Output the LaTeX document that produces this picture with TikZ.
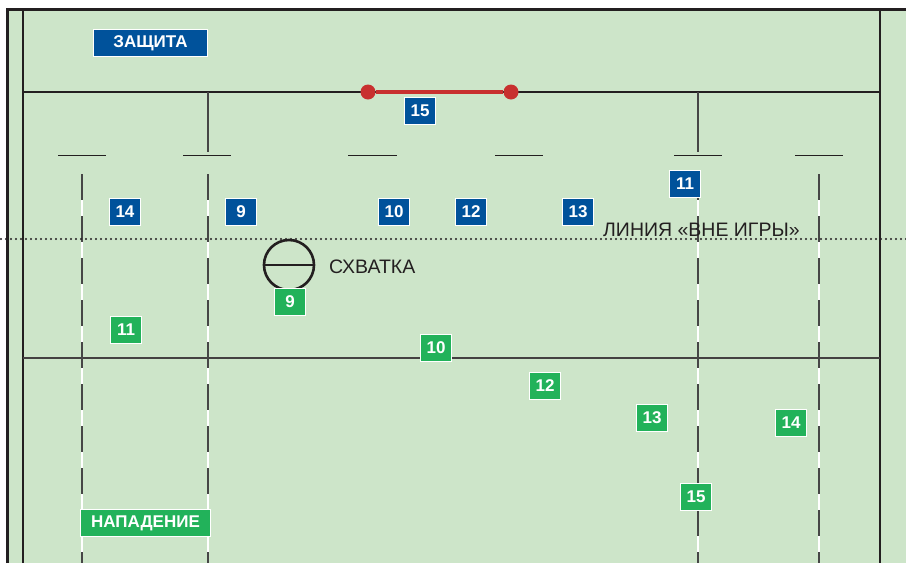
\documentclass[tikz,border=0pt]{standalone}
\usepackage{fontspec}
\setmainfont{Liberation Sans}
\definecolor{field}{RGB}{205,229,201}
\definecolor{defblue}{RGB}{0,82,155}
\definecolor{attgreen}{RGB}{34,178,90}
\definecolor{postred}{RGB}{200,48,47}
\definecolor{ink}{RGB}{35,31,32}
\definecolor{dashgray}{RGB}{70,70,70}
\tikzset{
  numbox/.style={draw=white, line width=1.2pt, text=white, font=\bfseries\fontsize{17}{17}\selectfont,
    minimum width=31pt, minimum height=27pt, inner sep=0pt},
  defbox/.style={numbox, fill=defblue},
  attbox/.style={numbox, fill=attgreen},
  teambox/.style={draw=white, line width=1.2pt, text=white, font=\bfseries\fontsize{17}{17}\selectfont,
    minimum height=27pt, inner sep=0pt},
  post/.style={circle, fill=postred, minimum size=15pt, inner sep=0pt},
  fieldline/.style={draw=ink, line width=2.4pt},
  thinline/.style={draw=ink, line width=1pt},
  tickline/.style={draw=dashgray, line width=1.3pt},
  lbl/.style={text=ink, font=\fontsize{19.5}{19.5}\selectfont, inner sep=0pt},
}
\begin{document}
\begin{tikzpicture}[x=1pt,y=-1pt]
\useasboundingbox (0,0) rectangle (906,563);
\fill[white] (0,0) rectangle (906,563);
\fill[field] (7,9) rectangle (906,563);
% outer border
\draw[fieldline, line width=3pt] (7,563) -- (7,9) -- (906,9);
\draw[fieldline] (23,9) -- (23,563);
\draw[fieldline, line width=2.6pt] (880,9) -- (880,563);
% goal line and 22 line
\draw[fieldline] (23,92) -- (880,92);
\draw[fieldline, line width=2pt, draw=ink!85] (23,358) -- (880,358);
% ticks from goal line
\draw[tickline] (208,92) -- (208,152);
\draw[tickline] (698,92) -- (698,152);
% 5m marks
\foreach \a/\b in {58/106,183/231,348/397,495/543,674/722,795/843}
  \draw[thinline] (\a,155) -- (\b,155);
% dashed long lines
\foreach \xx in {82,208,698,819}{
  \draw[white, line width=1.3pt] (\xx,174) -- (\xx,563);
  \draw[dashgray, line width=1.4pt, dash pattern=on 26pt off 16pt] (\xx,174) -- (\xx,563);
}
% offside dotted line
\draw[ink, line width=2.2pt, line cap=round, dash pattern=on 0pt off 5pt] (1,239) -- (906,239);
% goal posts
\node[post] (gp1) at (368,92) {};
\node[post] (gp2) at (511,92) {};
\draw[postred, line width=3.4pt] (gp1) -- (gp2);
% scrum
\node[circle, draw=ink, line width=2.6pt, minimum size=50pt, inner sep=0pt] (scrum) at (289,265) {};
\draw[ink, line width=2.4pt] (scrum.west) -- (scrum.east);
\node[lbl, anchor=base west] (scrumlbl) at (329,273) {СХВАТКА};
\node[lbl, anchor=base west] (offlbl) at (603,236) {ЛИНИЯ «ВНЕ ИГРЫ»};
% team labels
\node[teambox, fill=defblue, minimum width=114pt] (def) at (150.5,43) {ЗАЩИТА};
\node[teambox, fill=attgreen, minimum width=130pt] (att) at (145.5,523) {НАПАДЕНИЕ};
% defence
\node[defbox] (d15) at (420,111) {15};
\node[defbox] (d14) at (125,212) {14};
\node[defbox] (d9) at (241,212) {9};
\node[defbox] (d10) at (394,212) {10};
\node[defbox] (d12) at (471,212) {12};
\node[defbox] (d13) at (578,212) {13};
\node[defbox] (d11) at (685,184) {11};
% attack
\node[attbox] (a9) at (290,302) {9};
\node[attbox] (a11) at (126,330) {11};
\node[attbox] (a10) at (436,348) {10};
\node[attbox] (a12) at (545,386) {12};
\node[attbox] (a13) at (652,418) {13};
\node[attbox] (a14) at (791,423) {14};
\node[attbox] (a15) at (696,497) {15};
\end{tikzpicture}
\end{document}
